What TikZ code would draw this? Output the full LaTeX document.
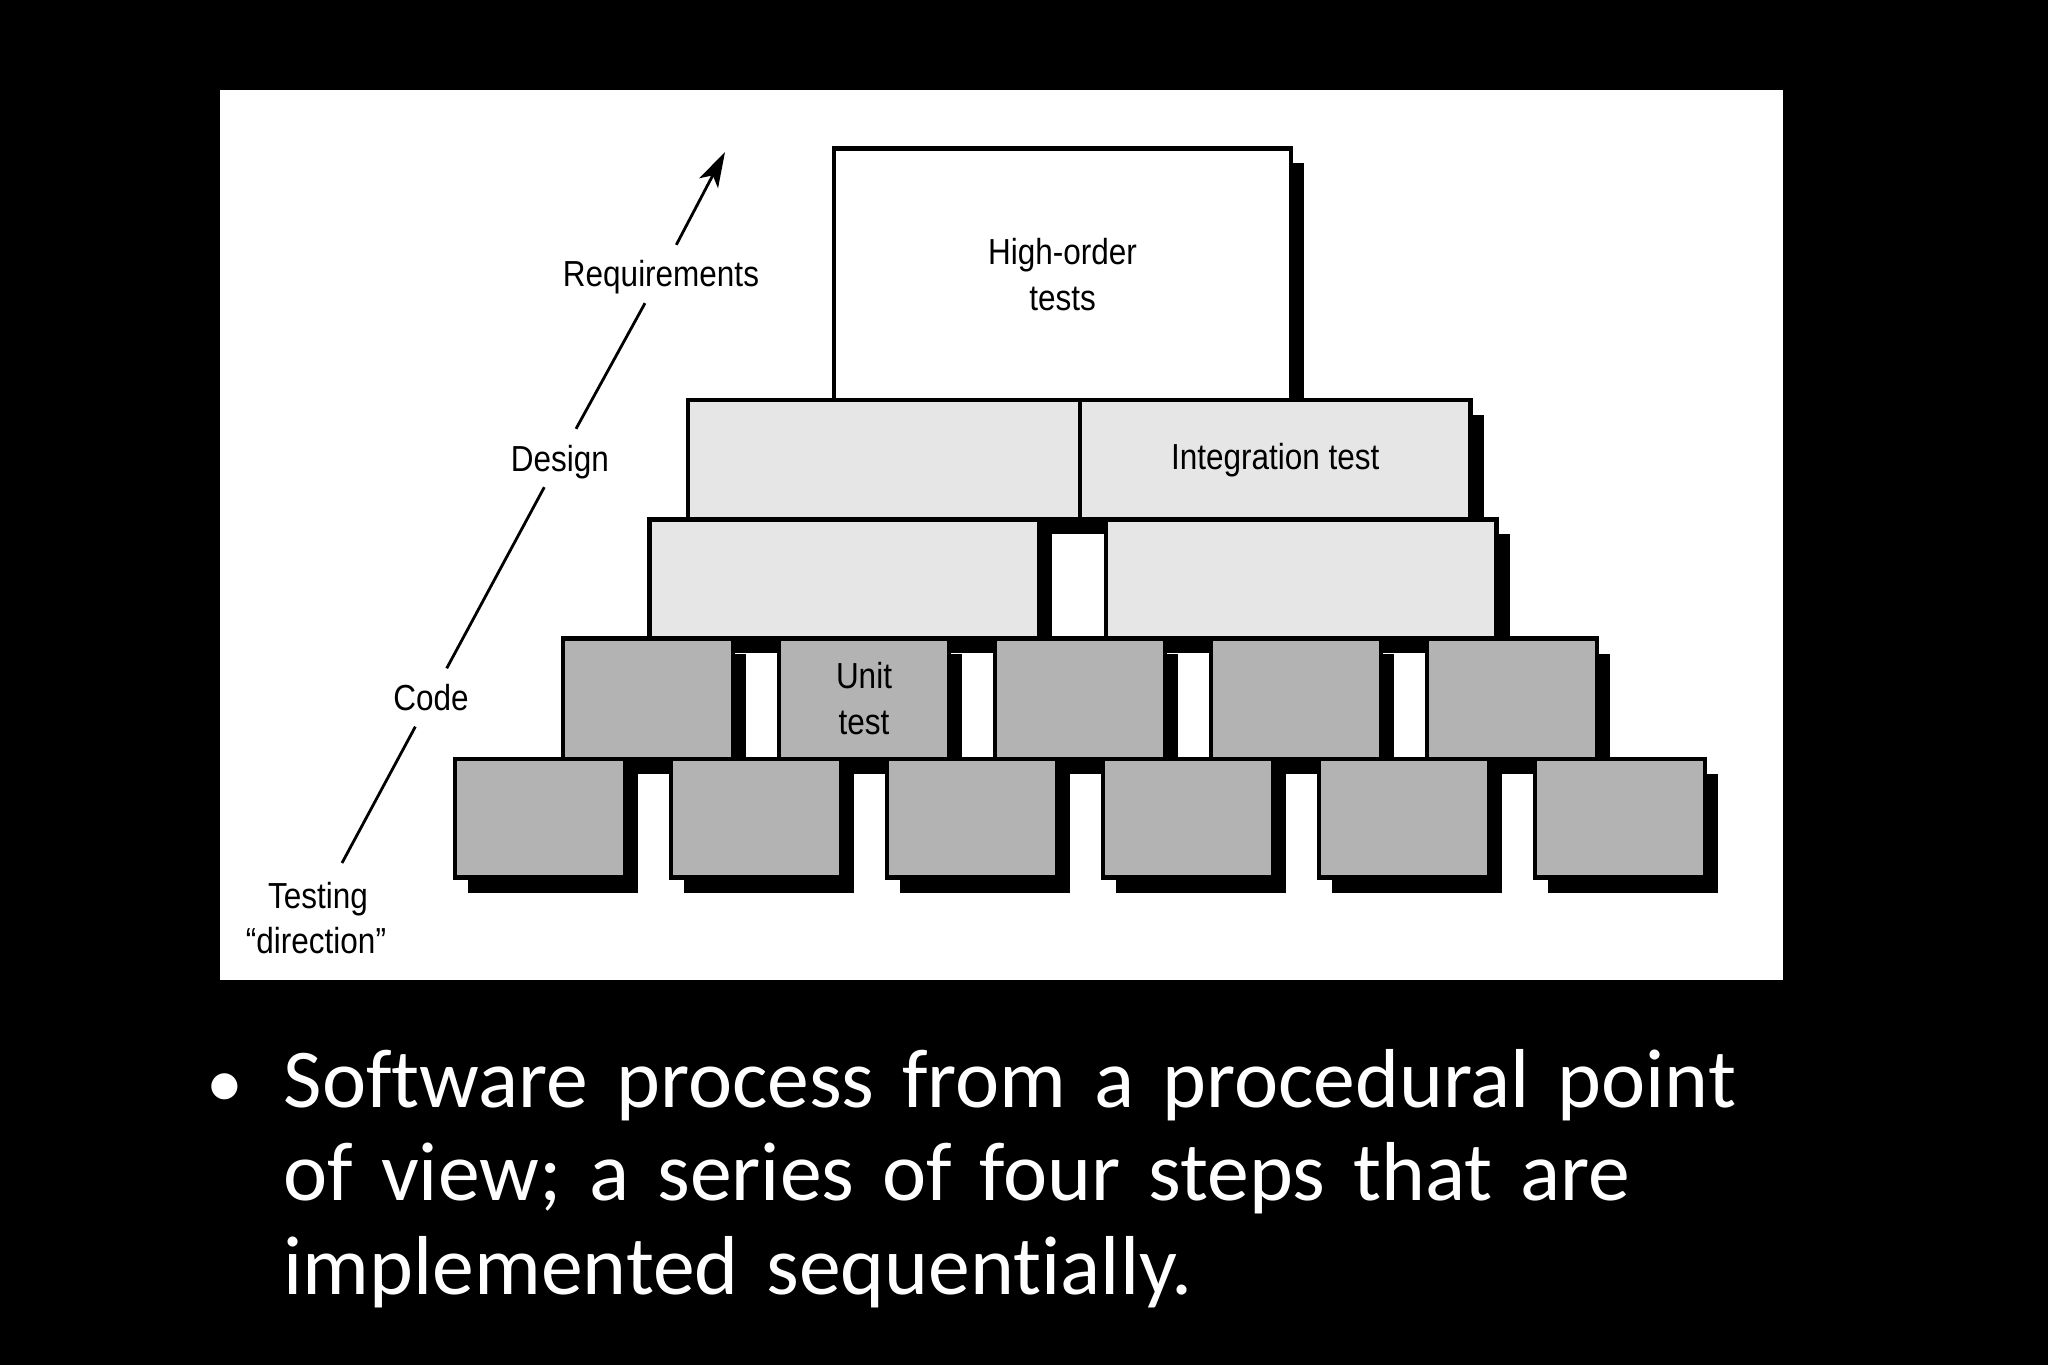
\documentclass[tikz,border=0pt]{standalone}
\usepackage{fontspec}
\newfontfamily\labelfont[FakeStretch=0.87]{Liberation Sans}
\newfontfamily\slidefont[Ligatures=NoCommon]{Carlito}
\usetikzlibrary{shadows,arrows.meta}
\definecolor{panelgray}{RGB}{230,230,230}
\definecolor{brickgray}{RGB}{179,179,179}
\tikzset{
  box/.style={draw=black, line width=1.3pt, inner sep=0pt, outer sep=0pt, align=center,
    font=\labelfont\fontsize{10.3pt}{13pt}\selectfont,
    drop shadow={shadow xshift=1.3mm, shadow yshift=-1.5mm, fill=black, opacity=1}},
  topbox/.style={box, fill=white},
  lightbox/.style={box, fill=panelgray},
  brick/.style={box, fill=brickgray, minimum width=17mm},
  dirlabel/.style={font=\labelfont\fontsize{10.3pt}{13pt}\selectfont, inner sep=0pt, inner xsep=2pt,
    minimum height=16.2pt, text height=7.4pt, text depth=0pt},
  dirline/.style={line width=0.8pt},
  slidetext/.style={font=\slidefont\fontsize{23.8pt}{26.7pt}\selectfont, text=white, inner sep=0pt},
}
\begin{document}
\begin{tikzpicture}[x=0.1mm, y=-0.1mm]
\useasboundingbox (0,0) rectangle (2048,1365);
\fill[black] (0,0) rectangle (2048,1365);
\fill[white] (220,90) rectangle (1783,980);
% top level
\node[topbox, minimum width=45.7mm, minimum height=25.15mm] (hot) at (1062.5,274.25) {High-order\\tests};
% level 2
\node[lightbox, minimum width=39.2mm, minimum height=11.95mm] (i1) at (884,459.75) {};
\node[lightbox, minimum width=39.05mm, minimum height=11.95mm] (i2) at (1275.25,459.75) {Integration test};
% level 3
\node[lightbox, minimum width=38.95mm, minimum height=11.9mm] (m1) at (844.25,579) {};
\node[lightbox, minimum width=39.05mm, minimum height=11.9mm] (m2) at (1301.25,579) {};
% level 4
\node[brick, minimum height=12.05mm] (u1) at (648,698.75) {};
\node[brick, minimum height=12.05mm] (u2) at (864,698.75) {Unit\\test};
\node[brick, minimum height=12.05mm] (u3) at (1080,698.75) {};
\node[brick, minimum height=12.05mm] (u4) at (1296,698.75) {};
\node[brick, minimum height=12.05mm] (u5) at (1512,698.75) {};
% level 5
\node[brick, minimum height=11.85mm] (b1) at (540,818.25) {};
\node[brick, minimum height=11.85mm] (b2) at (756,818.25) {};
\node[brick, minimum height=11.85mm] (b3) at (972,818.25) {};
\node[brick, minimum height=11.85mm] (b4) at (1188,818.25) {};
\node[brick, minimum height=11.85mm] (b5) at (1404,818.25) {};
\node[brick, minimum height=11.85mm] (b6) at (1620,818.25) {};
% testing direction
\coordinate (dstart) at (342,863);
\coordinate (dtip) at (725,152);
\node[dirlabel] (lcode) at (431,697.5) {Code};
\node[dirlabel] (ldes) at (560,458) {Design};
\node[dirlabel] (lreq) at (661,274) {Requirements};
\node[dirlabel] (ltest) at (318,895) {Testing};
\node[dirlabel] (ldir) at (316,940) {“direction”};
\draw[dirline] (dstart) -- (lcode);
\draw[dirline] (lcode) -- (ldes);
\draw[dirline] (ldes) -- (lreq);
\draw[dirline, -{Stealth[length=10pt, width=6pt, inset=2.5pt]}] (lreq) -- (dtip);
% slide text
\node[slidetext, anchor=base] (bul) at (225,1107) {\fontsize{21pt}{26.7pt}\selectfont •};
\node[slidetext, anchor=base west, text width=150mm, align=left] (para) at (283,1107)
  {Software process from a procedural point\\of view; a series of four steps that are\\implemented sequentially.};
\end{tikzpicture}
\end{document}
